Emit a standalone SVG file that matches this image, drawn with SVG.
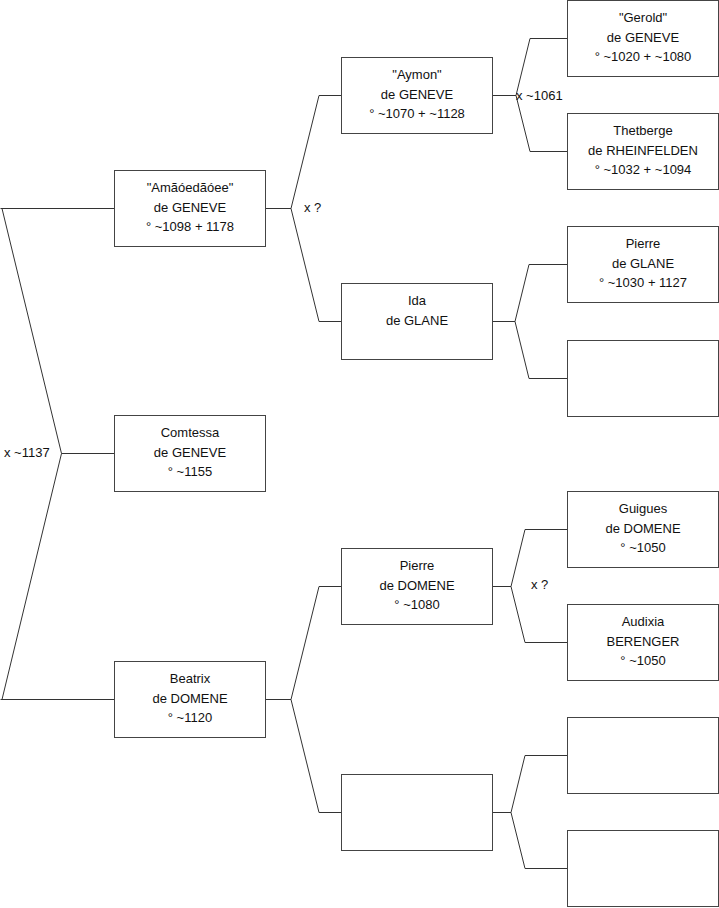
<svg xmlns="http://www.w3.org/2000/svg" width="719" height="908" viewBox="0 0 719 908">
<style>
.box{fill:#fff;stroke:#444;stroke-width:1}
.ln{fill:none;stroke:#333;stroke-width:1}
text{font-family:"Liberation Sans",Arial,sans-serif;font-size:13px;fill:#111}
.c{text-anchor:middle}
</style>
<rect width="719" height="908" fill="#fff"/>
<g id="connectors">
<path class="ln" d="M0.5,208.5 H114.5 M2,208.5 L61.5,453.5 L2,699.5 M61.5,453.5 H114.5 M0.5,699.5 H114.5"/>
<path class="ln" d="M265.5,208.5 H291 L319,95.5 H341.5 M291,208.5 L319,321.5 H341.5"/>
<path class="ln" d="M265.5,699.5 H291 L319,586.5 H341.5 M291,699.5 L319,812.5 H341.5"/>
<path class="ln" d="M492.5,95.5 H516 L530,38.5 H567.5 M516,95.5 L530,151.5 H567.5"/>
<path class="ln" d="M492.5,321.5 H515 L529,264.5 H567.5 M515,321.5 L529,378.5 H567.5"/>
<path class="ln" d="M492.5,586.5 H511 L525,529.5 H567.5 M511,586.5 L525,642.5 H567.5"/>
<path class="ln" d="M492.5,812.5 H511 L525,755.5 H567.5 M511,812.5 L525,868.5 H567.5"/>
<text x="304" y="212">x ?</text>
<text x="516" y="100">x ~1061</text>
<text x="4" y="457">x ~1137</text>
<text x="531" y="589">x ?</text>
</g>
<g id="amadeus"><rect class="box" x="114.5" y="170.5" width="151" height="76"/>
<text class="c" x="190" y="192">"Amãóedãóee"</text><text class="c" x="190" y="211.5">de GENEVE</text><text class="c" x="190" y="231">° ~1098 + 1178</text></g>
<g id="comtessa"><rect class="box" x="114.5" y="415.5" width="151" height="76"/>
<text class="c" x="190" y="437">Comtessa</text><text class="c" x="190" y="456.5">de GENEVE</text><text class="c" x="190" y="476">° ~1155</text></g>
<g id="beatrix"><rect class="box" x="114.5" y="661.5" width="151" height="76"/>
<text class="c" x="190" y="683">Beatrix</text><text class="c" x="190" y="702.5">de DOMENE</text><text class="c" x="190" y="722">° ~1120</text></g>
<g id="aymon"><rect class="box" x="341.5" y="57.5" width="151" height="76"/>
<text class="c" x="417" y="79">"Aymon"</text><text class="c" x="417" y="98.5">de GENEVE</text><text class="c" x="417" y="118">° ~1070 + ~1128</text></g>
<g id="ida"><rect class="box" x="341.5" y="283.5" width="151" height="76"/>
<text class="c" x="417" y="305">Ida</text><text class="c" x="417" y="324.5">de GLANE</text></g>
<g id="pierre-domene"><rect class="box" x="341.5" y="548.5" width="151" height="76"/>
<text class="c" x="417" y="570">Pierre</text><text class="c" x="417" y="589.5">de DOMENE</text><text class="c" x="417" y="609">° ~1080</text></g>
<g id="empty-mother-beatrix"><rect class="box" x="341.5" y="774.5" width="151" height="76"/></g>
<g id="gerold"><rect class="box" x="567.5" y="0.5" width="151" height="76"/>
<text class="c" x="643" y="22">"Gerold"</text><text class="c" x="643" y="41.5">de GENEVE</text><text class="c" x="643" y="61">° ~1020 + ~1080</text></g>
<g id="thetberge"><rect class="box" x="567.5" y="113.5" width="151" height="76"/>
<text class="c" x="643" y="135">Thetberge</text><text class="c" x="643" y="154.5">de RHEINFELDEN</text><text class="c" x="643" y="174">° ~1032 + ~1094</text></g>
<g id="pierre-glane"><rect class="box" x="567.5" y="226.5" width="151" height="76"/>
<text class="c" x="643" y="248">Pierre</text><text class="c" x="643" y="267.5">de GLANE</text><text class="c" x="643" y="287">° ~1030 + 1127</text></g>
<g id="empty-mother-ida"><rect class="box" x="567.5" y="340.5" width="151" height="76"/></g>
<g id="guigues"><rect class="box" x="567.5" y="491.5" width="151" height="76"/>
<text class="c" x="643" y="513">Guigues</text><text class="c" x="643" y="532.5">de DOMENE</text><text class="c" x="643" y="552">° ~1050</text></g>
<g id="audixia"><rect class="box" x="567.5" y="604.5" width="151" height="76"/>
<text class="c" x="643" y="626">Audixia</text><text class="c" x="643" y="645.5">BERENGER</text><text class="c" x="643" y="665">° ~1050</text></g>
<g id="empty-father-unknown"><rect class="box" x="567.5" y="717.5" width="151" height="76"/></g>
<g id="empty-mother-unknown"><rect class="box" x="567.5" y="830.5" width="151" height="76"/></g>
</svg>
